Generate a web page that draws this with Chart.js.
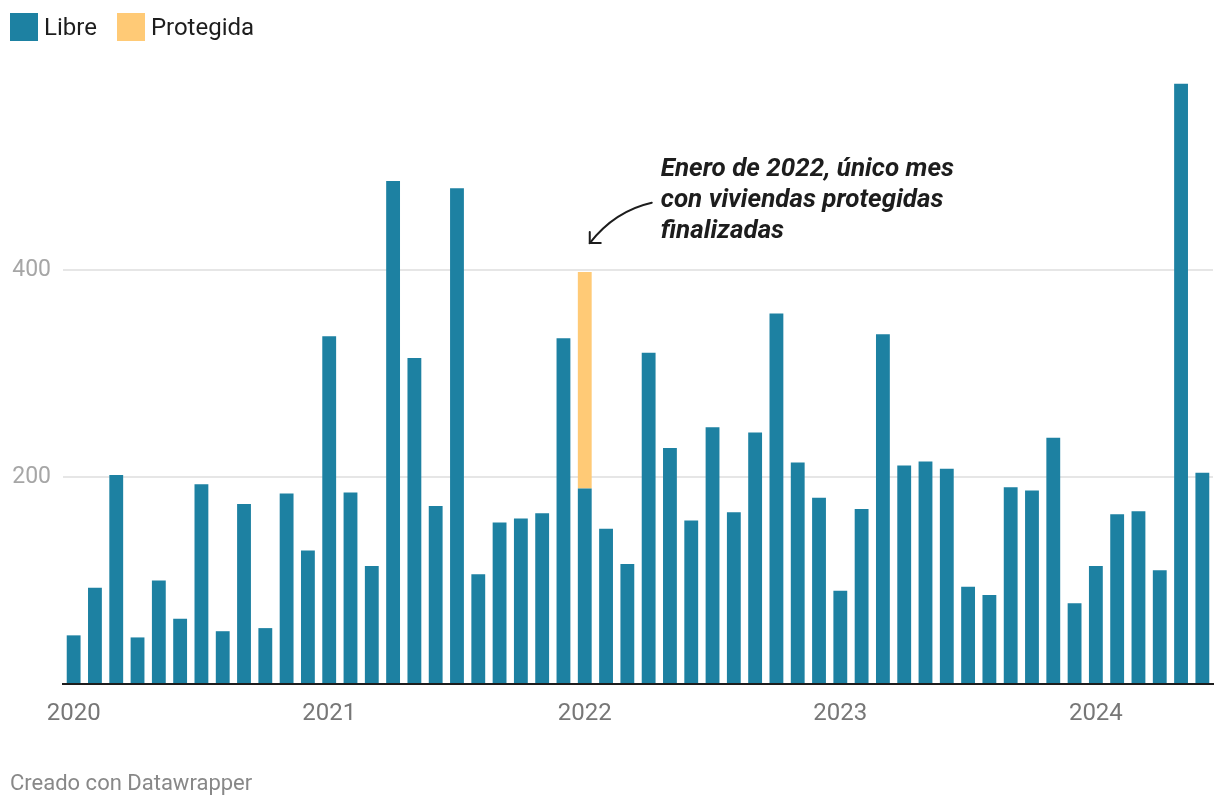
<!DOCTYPE html>
<html>
<head>
<meta charset="utf-8">
<script src="https://cdn.jsdelivr.net/npm/chart.js@4"></script>
<style>
  body { margin: 0; background: #fff; font-family: Roboto, sans-serif; }
  #wrap { position: relative; width: 1220px; height: 808px; }
  #chart { position: absolute; left: 0; top: 0; }
  .legend { position: absolute; left: 10px; top: 13px; display: flex; align-items: center; font-size: 24px; color: #1d1d1d; }
  .legend span.box { display: inline-block; width: 28px; height: 28px; margin-right: 6px; }
  .legend .item { display: flex; align-items: center; margin-right: 20px; line-height: 28px; }
  #note { position: absolute; font-size: 26px; line-height: 31px; font-weight: 700; font-style: italic; color: #1d1d1d; white-space: nowrap; }
  #footer { position: absolute; left: 10px; top: 770px; font-size: 22px; color: #888; }
</style>
</head>
<body>
<div id="wrap">
  <canvas id="chart" width="1220" height="808"></canvas>
  <div class="legend">
    <div class="item"><span class="box" style="background:#1d81a2"></span>Libre</div>
    <div class="item"><span class="box" style="background:#ffca76"></span>Protegida</div>
  </div>
  <div id="note">Enero de 2022, único mes<br>con viviendas protegidas<br>finalizadas</div>
  <div id="footer">Creado con Datawrapper</div>
</div>
<script>
// meses enero 2020 - junio 2024
const months = [
  '2020-01','2020-02','2020-03','2020-04','2020-05','2020-06','2020-07','2020-08','2020-09','2020-10','2020-11','2020-12',
  '2021-01','2021-02','2021-03','2021-04','2021-05','2021-06','2021-07','2021-08','2021-09','2021-10','2021-11','2021-12',
  '2022-01','2022-02','2022-03','2022-04','2022-05','2022-06','2022-07','2022-08','2022-09','2022-10','2022-11','2022-12',
  '2023-01','2023-02','2023-03','2023-04','2023-05','2023-06','2023-07','2023-08','2023-09','2023-10','2023-11','2023-12',
  '2024-01','2024-02','2024-03','2024-04','2024-05','2024-06'
];
const yearTicks = ['2020', '2021', '2022', '2023', '2024'];

const libre = [
  47, 93, 202, 45, 100, 63, 193, 51, 174, 54, 184, 129,
  336, 185, 114, 486, 315, 172, 479, 106, 156, 160, 165, 334,
  189, 150, 116, 320, 228, 158, 248, 166, 243, 358, 214, 180,
  90, 169, 338, 211, 215, 208, 94, 86, 190, 187, 238, 78,
  114, 164, 167, 110, 580, 204
];
const protegida = [
  0, 0, 0, 0, 0, 0, 0, 0, 0, 0, 0, 0,
  0, 0, 0, 0, 0, 0, 0, 0, 0, 0, 0, 0,
  209, 0, 0, 0, 0, 0, 0, 0, 0, 0, 0, 0,
  0, 0, 0, 0, 0, 0, 0, 0, 0, 0, 0, 0,
  0, 0, 0, 0, 0, 0
];
const yTicks = [200, 400];

const noteIndex = months.indexOf('2022-01');

// flecha de la anotacion + posicion del texto
const notePlugin = {
  id: 'note',
  afterDatasetsDraw(chart) {
    const x = chart.scales.x, y = chart.scales.y, ctx = chart.ctx;
    const cx = x.getPixelForValue(noteIndex);
    const tipX = cx + 5, tipY = y.getPixelForValue(426);
    const sx = cx + 67, sy = y.getPixelForValue(465);
    ctx.save();
    ctx.strokeStyle = '#1d1d1d';
    ctx.lineWidth = 2;
    ctx.lineCap = 'round';
    ctx.beginPath();
    ctx.moveTo(sx, sy);
    ctx.quadraticCurveTo(cx + 30, y.getPixelForValue(457), tipX, tipY);
    ctx.stroke();
    ctx.beginPath();
    ctx.moveTo(tipX, tipY - 11);
    ctx.lineTo(tipX, tipY);
    ctx.lineTo(tipX + 11, tipY);
    ctx.stroke();
    ctx.restore();

    const note = document.getElementById('note');
    note.style.left = (cx + 76) + 'px';
    note.style.top = (y.getPixelForValue(400) - 118) + 'px';
  }
};

new Chart(document.getElementById('chart'), {
  type: 'bar',
  data: {
    labels: months,
    datasets: [
      { label: 'Libre', data: libre, backgroundColor: '#1d81a2', barPercentage: 0.65, categoryPercentage: 1 },
      { label: 'Protegida', data: protegida, backgroundColor: '#ffca76', barPercentage: 0.65, categoryPercentage: 1 }
    ]
  },
  options: {
    responsive: false,
    animation: false,
    layout: { padding: { top: 63, right: 7, bottom: 84, left: 0 } },
    plugins: { legend: { display: false }, tooltip: { enabled: false } },
    scales: {
      x: {
        stacked: true,
        grid: { display: false },
        border: { display: true, color: '#1d1d1d', width: 2, z: 1 },
        ticks: {
          autoSkip: false,
          maxRotation: 0,
          padding: 8,
          color: '#777',
          font: { family: 'Roboto', size: 24 },
          callback: (v, i) => {
            const yr = months[i].slice(0, 4);
            return months[i].endsWith('-01') && yearTicks.includes(yr) ? yr : '';
          }
        },
        afterFit: (s) => { s.height = 40; }
      },
      y: {
        stacked: true,
        min: 0,
        max: 600,
        border: { display: false },
        grid: {
          drawTicks: false,
          lineWidth: 2,
          color: (c) => yTicks.includes(c.tick.value) ? '#e6e6e6' : 'rgba(0,0,0,0)'
        },
        ticks: {
          stepSize: 200,
          padding: 12,
          color: '#a6a6a6',
          font: { family: 'Roboto', size: 23 },
          callback: (v) => yTicks.includes(v) ? String(v) : ''
        },
        afterFit: (s) => { s.width = 63; }
      }
    }
  },
  plugins: [notePlugin]
});
</script>
</body>
</html>
